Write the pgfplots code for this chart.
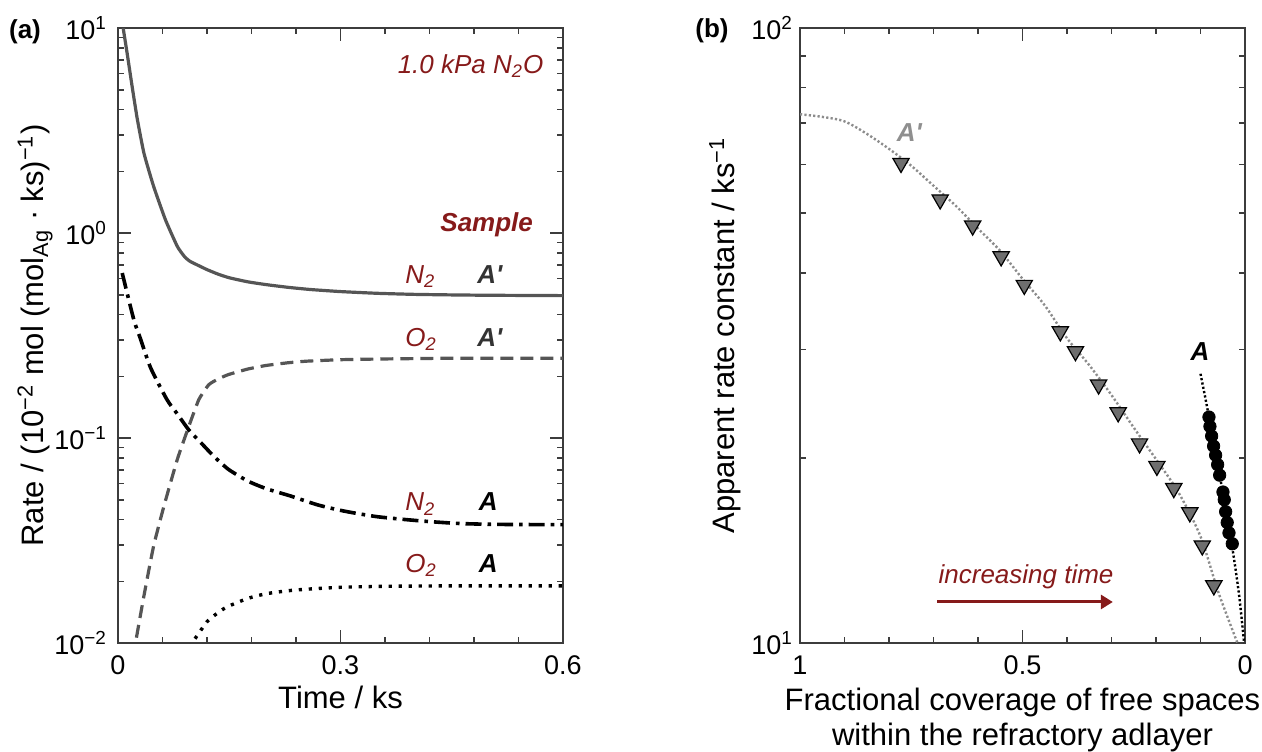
\documentclass[border=0pt]{standalone}
\usepackage{fontspec}
\setmainfont{Liberation Sans}
\usepackage{pgfplots}
\pgfplotsset{compat=1.18}
\usetikzlibrary{arrows.meta}

\definecolor{darkred}{HTML}{861A1A}
\definecolor{linegray}{HTML}{555555}
\definecolor{axisgray}{HTML}{3C3C3C}
\definecolor{trifill}{HTML}{6E6E6E}
\definecolor{dotgray}{HTML}{8C8C8C}
\definecolor{labgray}{HTML}{8F8F8F}
\definecolor{agray}{HTML}{333333}

\newcommand{\lab}{\fontsize{15.5}{17.5}\selectfont}
\newcommand{\tck}{\fontsize{13.5}{15}\selectfont}
\newcommand{\ann}{\fontsize{13}{15}\selectfont}
\newcommand{\Ap}{\textit{\textbf{A\textquotesingle}}}

\pgfplotsset{
  panel/.style={
    scale only axis, width=222.5pt, height=307.5pt,
    axis line style={axisgray, line width=1pt},
    every tick/.style={axisgray, line width=0.8pt},
    major tick length=6.5pt, minor tick length=3pt,
    tick align=inside,
    tick label style={font=\tck},
    xticklabel style={yshift=-3pt},
  }
}

\begin{document}
\begin{tikzpicture}
\useasboundingbox (0,0) rectangle (631pt,375.5pt);

% (a) rates against time
\begin{semilogyaxis}[panel, at={(59pt,54pt)}, anchor=south west,
  xmin=0, xmax=0.6, ymin=0.01, ymax=10,
  xtick={0,0.3,0.6}, xticklabels={0,0.3,0.6},
  minor xtick={0.06,0.12,0.18,0.24,0.36,0.42,0.48,0.54},
  ytick={0.01,0.1,1,10},
  yticklabels={10\textsuperscript{−2},10\textsuperscript{−1},10\textsuperscript{0},10\textsuperscript{1}},
  minor ytick={0.02,0.03,0.04,0.05,0.06,0.07,0.08,0.09,0.2,0.3,0.4,0.5,0.6,0.7,0.8,0.9,2,3,4,5,6,7,8,9},
  yticklabel style={xshift=-2pt},
  xlabel={Time / ks},
  xlabel style={font=\lab, at={(axis description cs:0.5,-0.1057)}, anchor=base, inner sep=0pt},
  ylabel={Rate / (10\textsuperscript{−2} mol (mol\textsubscript{Ag} · ks)\textsuperscript{−1})},
  ylabel style={font=\lab, at={(axis description cs:-0.1865,0.5)}, anchor=center, inner sep=0pt},
]
% N2, A'
\addplot[linegray, line width=1.6pt, smooth, tension=0.3] coordinates {
  (0.004,12.5) (0.007,10.0) (0.0124,7.5) (0.019,5.2) (0.026,3.6) (0.035,2.45)
  (0.048,1.69) (0.064,1.16) (0.080,0.86) (0.090,0.765) (0.097,0.728) (0.11,0.69)
  (0.12,0.663) (0.135,0.63) (0.15,0.605) (0.175,0.578) (0.2,0.56) (0.23,0.543)
  (0.26,0.53) (0.3,0.518) (0.35,0.508) (0.4,0.502) (0.45,0.499) (0.5,0.497) (0.6,0.495)};
% O2, A'
\addplot[linegray, line width=1.6pt, dash pattern=on 6.5pt off 3.5pt, smooth, tension=0.3] coordinates {
  (0.021,0.0085) (0.0236,0.010) (0.035,0.017) (0.048,0.0297) (0.062,0.0466)
  (0.080,0.0787) (0.0955,0.114) (0.109,0.154) (0.1224,0.182) (0.135,0.194)
  (0.149,0.204) (0.175,0.217) (0.2,0.226) (0.23,0.233) (0.254,0.237) (0.3,0.241)
  (0.357,0.243) (0.45,0.245) (0.6,0.245)};
% N2, A
\addplot[black, line width=1.8pt, dash pattern=on 8pt off 3pt on 1.8pt off 3pt, smooth, tension=0.4] coordinates {
  (0.0057,0.638) (0.0213,0.378) (0.03,0.307) (0.044,0.22) (0.066,0.154) (0.08,0.131)
  (0.0955,0.1095) (0.11,0.0964) (0.129,0.0816) (0.149,0.0703) (0.175,0.0617)
  (0.2,0.0566) (0.233,0.0521) (0.27,0.0471) (0.305,0.044) (0.35,0.0413)
  (0.409,0.0394) (0.46,0.0383) (0.512,0.0379) (0.6,0.0378)};
% O2, A
\addplot[black, line width=1.7pt, dash pattern=on 1.6pt off 3.4pt, smooth, tension=0.4] coordinates {
  (0.098,0.0095) (0.100,0.010) (0.11,0.0113) (0.12,0.0127) (0.133,0.0139) (0.147,0.0150)
  (0.175,0.0165) (0.2,0.0174) (0.23,0.0180) (0.254,0.0183) (0.3,0.0187) (0.357,0.0189)
  (0.45,0.019) (0.6,0.019)};

\node[anchor=base east, font=\ann\itshape, text=darkred, inner sep=0pt]
  at (axis cs:0.574,6.0) {1.0 kPa N\textsubscript{2}O};
\node[anchor=base east, font=\ann\bfseries\itshape, text=darkred, inner sep=0pt]
  at (axis cs:0.56,1.02) {Sample};
\node[anchor=base west, font=\ann\itshape, text=darkred, inner sep=0pt] at (axis cs:0.387,0.57) {N\textsubscript{2}};
\node[anchor=base west, font=\ann, text=agray, inner sep=0pt] at (axis cs:0.484,0.57) {\Ap};
\node[anchor=base west, font=\ann\itshape, text=darkred, inner sep=0pt] at (axis cs:0.387,0.28) {O\textsubscript{2}};
\node[anchor=base west, font=\ann, text=agray, inner sep=0pt] at (axis cs:0.484,0.28) {\Ap};
\node[anchor=base west, font=\ann\itshape, text=darkred, inner sep=0pt] at (axis cs:0.387,0.0441) {N\textsubscript{2}};
\node[anchor=base west, font=\ann\bfseries\itshape, text=black, inner sep=0pt] at (axis cs:0.486,0.0441) {A};
\node[anchor=base west, font=\ann\itshape, text=darkred, inner sep=0pt] at (axis cs:0.387,0.0221) {O\textsubscript{2}};
\node[anchor=base west, font=\ann\bfseries\itshape, text=black, inner sep=0pt] at (axis cs:0.486,0.0221) {A};
\end{semilogyaxis}

% (b) apparent rate constant against free-space coverage
\begin{semilogyaxis}[panel, at={(400pt,54pt)}, anchor=south west, x dir=reverse,
  xmin=0, xmax=1, ymin=10, ymax=100,
  xtick={0,0.5,1}, xticklabels={0,0.5,1},
  minor xtick={0.1,0.2,0.3,0.4,0.6,0.7,0.8,0.9},
  ytick={10,100}, yticklabels={10\textsuperscript{1},10\textsuperscript{2}},
  minor ytick={20,30,40,50,60,70,80,90},
  xlabel={Fractional coverage of free spaces\\within the refractory adlayer},
  xlabel style={font=\lab, align=center, at={(axis description cs:0.5,-0.0732)}, anchor=north, inner sep=0pt},
  ylabel={Apparent rate constant / ks\textsuperscript{−1}},
  ylabel style={font=\lab, at={(axis description cs:-0.1685,0.5)}, anchor=center, inner sep=0pt},
]
\addplot[dotgray, line width=1.2pt, dash pattern=on 1.1pt off 1.1pt, smooth] coordinates {
  (1.0,72.4) (0.95,71.7) (0.9,70.5) (0.85,67.3) (0.8,63.6) (0.75,59.7) (0.7,55.4)
  (0.65,51.4) (0.6,47.2) (0.55,43.4) (0.5,39.1) (0.45,35.4) (0.4,31.3) (0.35,28.3)
  (0.3,25.3) (0.25,22.4) (0.2,19.9) (0.15,17.6) (0.1,14.9) (0.06,12.1) (0.017,10.0)};
\addplot[only marks, mark=triangle*, mark size=4.7pt,
  mark options={rotate=180, fill=trifill, draw=black, line width=0.6pt}] coordinates {
  (0.773,60.3) (0.685,52.6) (0.612,47.7) (0.548,42.5) (0.496,38.2) (0.415,32.1)
  (0.381,29.8) (0.329,26.3) (0.285,23.7) (0.237,21.1) (0.198,19.4) (0.160,17.85)
  (0.124,16.3) (0.096,14.4) (0.070,12.4)};
\addplot[black, line width=1.2pt, dash pattern=on 1.1pt off 1.1pt, smooth] coordinates {
  (0.100,27.4) (0.090,25.2) (0.081,23.3) (0.066,20.2) (0.050,17.6) (0.036,15.1)
  (0.028,14.2) (0.0135,12.0) (0.002,10.0)};
\addplot[only marks, mark=*, mark size=3.1pt, mark options={fill=black, draw=black}] coordinates {
  (0.081,23.3) (0.0788,22.5) (0.075,21.7) (0.0706,20.9) (0.066,20.2) (0.0615,19.5)
  (0.057,18.75) (0.0495,17.6) (0.0466,17.1) (0.0435,16.35) (0.040,15.7) (0.036,15.1)
  (0.0286,14.5)};

\node[anchor=base west, font=\ann\bfseries\itshape, text=labgray, inner sep=0pt]
  at (axis cs:0.783,65.3) {A\textquotesingle};
\node[anchor=base, font=\ann\bfseries\itshape, text=black, inner sep=0pt]
  at (axis cs:0.101,28.8) {A};
\node[anchor=base, font=\ann\itshape, text=darkred, inner sep=0pt]
  at (axis cs:0.492,12.5) {increasing time};
\draw[darkred, line width=1.5pt, -{Triangle[length=6pt,width=7pt]}]
  (axis cs:0.692,11.66) -- (axis cs:0.297,11.66);
\end{semilogyaxis}

\node[font=\ann\bfseries] at (12.5pt,359.5pt) {(a)};
\node[font=\ann\bfseries] at (356pt,360pt) {(b)};
\end{tikzpicture}
\end{document}
